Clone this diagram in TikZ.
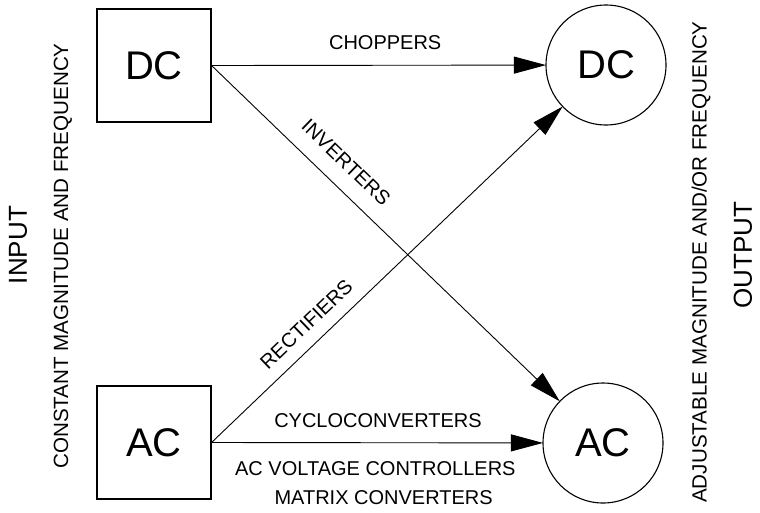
\documentclass[tikz,border=0pt]{standalone}
\usepackage{fontspec}
\setmainfont{Liberation Sans}
\usetikzlibrary{arrows.meta}
\begin{document}
\begin{tikzpicture}[x=1pt,y=-1pt,
  inbox/.style={draw, line width=1.1pt, minimum width=114pt, minimum height=113pt, inner sep=0pt, font=\fontsize{40}{40}\selectfont},
  outcirc/.style={draw, circle, line width=1.1pt, minimum size=120pt, inner sep=0pt, font=\fontsize{40}{40}\selectfont},
  conv/.style={line width=0.9pt, -{Triangle[length=32pt,width=17pt]}, shorten >=-0.5pt},
  lbl/.style={inner sep=0pt, font=\fontsize{20}{20}\selectfont},
  side/.style={inner sep=0pt, rotate=90, font=\fontsize{20.6}{21}\selectfont},
  big/.style={inner sep=0pt, rotate=90, font=\fontsize{26}{26}\selectfont}]
\useasboundingbox (0,0) rectangle (760,512);
\fill[white] (0,0) rectangle (760,512);

\node[inbox] (dcin) at (154,65.5) {DC};
\node[inbox] (acin) at (154,442.5) {AC};
\node[outcirc] (dcout) at (606,65) {DC};
\node[outcirc] (acout) at (603,443) {AC};

\draw[conv] (dcin.east) -- node[lbl, pos=0.52, above=15pt] (chop) {CHOPPERS} (dcout);
\draw[conv] (dcin.east) -- node[lbl, sloped, pos=0.34, above=16pt] (inv) {INVERTERS} (acout);
\draw[conv] (acin.east) -- node[lbl, sloped, pos=0.31, above=12.5pt] (rect) {RECTIFIERS} (dcout);
\draw[conv] (acin.east) -- node[lbl, pos=0.503, above=15pt] (cyc) {CYCLOCONVERTERS}
  node[lbl, pos=0.495, below=18pt] (acv) {AC VOLTAGE CONTROLLERS}
  node[lbl, pos=0.52, below=47pt] (mat) {MATRIX CONVERTERS} (acout);

\node[big] (input) at (18,245) {INPUT};
\node[side] (cmf) at (63,256) {CONSTANT MAGNITUDE AND FREQUENCY};
\node[side] (amf) at (701,262) {ADJUSTABLE MAGNITUDE AND/OR FREQUENCY};
\node[big] (output) at (743,255) {OUTPUT};
\end{tikzpicture}
\end{document}
